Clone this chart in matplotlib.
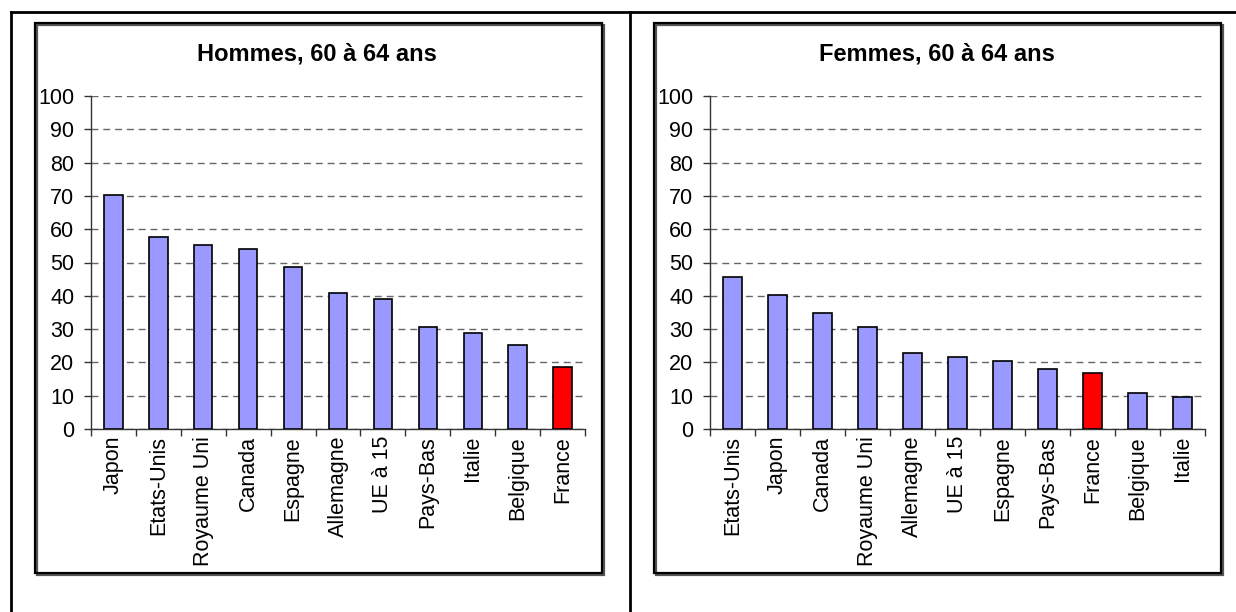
import matplotlib
matplotlib.use("Agg")
import matplotlib.pyplot as plt
from matplotlib.lines import Line2D
from matplotlib.patches import Rectangle
import numpy as np

# values (share of 60-64 year olds in employment, %)
hommes_pays = ["Japon", "Etats-Unis", "Royaume Uni", "Canada", "Espagne", "Allemagne",
               "UE à 15", "Pays-Bas", "Italie", "Belgique", "France"]
hommes_val = [70.3, 57.7, 55.3, 54.1, 48.7, 40.9, 39.1, 30.7, 28.9, 25.3, 18.6]

femmes_pays = ["Etats-Unis", "Japon", "Canada", "Royaume Uni", "Allemagne", "UE à 15",
               "Espagne", "Pays-Bas", "France", "Belgique", "Italie"]
femmes_val = [45.7, 40.3, 34.9, 30.7, 22.8, 21.6, 20.4, 18.0, 16.8, 10.8, 9.6]

titles = ["Hommes, 60 à 64 ans", "Femmes, 60 à 64 ans"]
yticks = list(range(0, 101, 10))

BLUE = "#9999FF"
RED = "#FF0000"
W, H = 1236, 612

plt.rcParams["font.family"] = ["Liberation Sans", "DejaVu Sans"]
fig = plt.figure(figsize=(W / 100, H / 100), dpi=100)


def px_line(x0, y0, x1, y1, lw=2.0, color="black"):
    fig.add_artist(Line2D([x0 / W, x1 / W], [1 - y0 / H, 1 - y1 / H],
                          transform=fig.transFigure, color=color, lw=lw))


def px_rect(x0, y0, x1, y1, lw=1.6):
    # shadow then frame
    fig.add_artist(Rectangle(((x0 + 1.5) / W, 1 - (y1 + 1.5) / H), (x1 - x0) / W,
                             (y1 - y0) / H, transform=fig.transFigure,
                             facecolor="none", edgecolor="#555555", lw=lw))
    fig.add_artist(Rectangle((x0 / W, 1 - y1 / H), (x1 - x0) / W, (y1 - y0) / H,
                             transform=fig.transFigure, facecolor="none",
                             edgecolor="black", lw=lw))


# table-like outer lines
px_line(11, 12, W, 12)
px_line(11, 12, 11, H)
px_line(630, 12, 630, H)

# chart frames
px_rect(35, 23, 602, 573)
px_rect(654, 23, 1221, 573)


def panel(x0, x1, pays, vals, title):
    y_top, y_bot = 96, 429
    ax = fig.add_axes([x0 / W, 1 - y_bot / H, (x1 - x0) / W, (y_bot - y_top) / H])
    x = np.arange(len(pays))
    colors = [RED if p == "France" else BLUE for p in pays]
    ax.bar(x, vals, width=0.41, color=colors, edgecolor="black", linewidth=1.2,
           zorder=3)
    ax.set_xlim(-0.5, len(pays) - 0.5)
    ax.set_ylim(0, 100)
    ax.set_yticks(yticks)
    ax.set_yticklabels([str(v) for v in yticks], fontsize=15.5)
    ax.set_xticks(x)
    ax.set_xticklabels(pays, rotation=90, fontsize=15.5)
    ax.set_xticks(np.arange(len(pays) + 1) - 0.5, minor=True)
    ax.tick_params(axis="x", which="major", length=0, pad=5)
    ax.tick_params(axis="x", which="minor", length=5, width=1, color="#333333")
    ax.tick_params(axis="y", length=5, width=1, color="#333333", pad=7)
    for s in ("top", "right"):
        ax.spines[s].set_visible(False)
    for s in ("left", "bottom"):
        ax.spines[s].set_color("#333333")
        ax.spines[s].set_linewidth(1.0)
    ax.yaxis.grid(True, linestyle=(0, (5, 3.5)), color="#666666", lw=1.0, zorder=0)
    ax.set_axisbelow(True)
    ax.patch.set_alpha(0)
    fig.text(((x0 + x1) / 2 - 21) / W, 1 - 54 / H, title, ha="center", va="center",
             fontsize=17, fontweight="bold")
    return ax


panel(91, 585, hommes_pays, hommes_val, titles[0])
panel(710, 1205, femmes_pays, femmes_val, titles[1])

fig.savefig("out.png", dpi=100)
